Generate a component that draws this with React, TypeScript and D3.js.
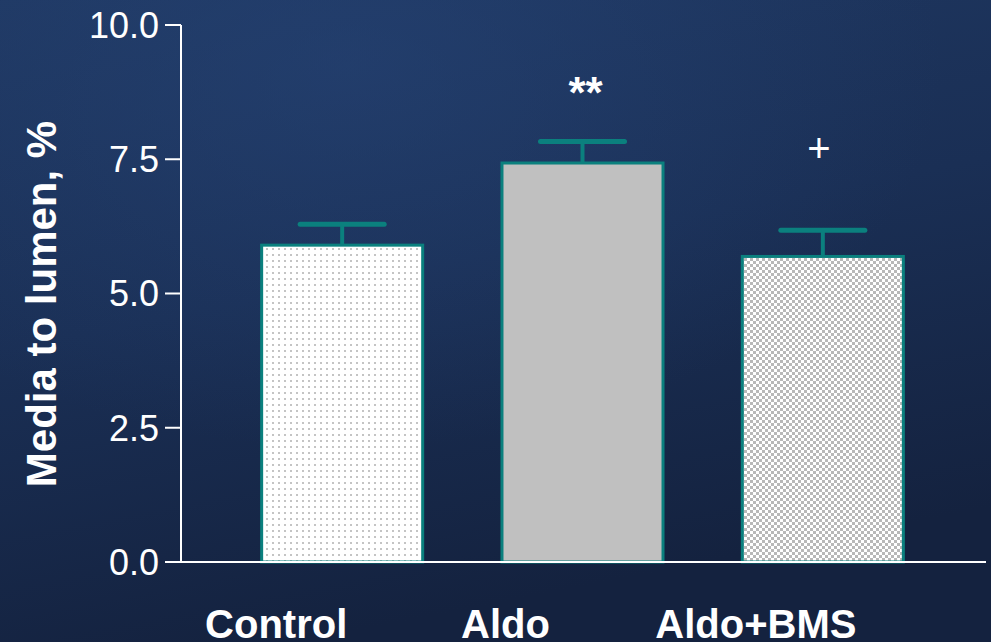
import React from "react";
import * as d3 from "d3";

const categories = ["Control", "Aldo", "Aldo+BMS"];
const means = [5.9, 7.43, 5.69];
const errors = [0.39, 0.4, 0.49];
const yTicks = [0, 2.5, 5, 7.5, 10];
const annotations = ["", "**", "+"];

const W = 991;
const H = 642;
// layout: horizontal shift of category labels relative to bar centres
const LABEL_SHIFT = [-66, -77, -67];

export default function App() {
  const y = d3.scaleLinear().domain([0, 10]).range([562, 25]);
  const x = d3
    .scaleBand<string>()
    .domain(categories)
    .range([222, 943])
    .paddingInner(0.33)
    .paddingOuter(0.165);
  const bw = x.bandwidth();
  const teal = "#0b807e";
  const fills = ["url(#dots)", "#c0c0c0", "url(#checks)"];
  const font = "'Liberation Sans', Arial, sans-serif";

  return (
    <svg
      width={W}
      height={H}
      style={{ position: "absolute", left: 0, top: 0 }}
    >
      <defs>
        <linearGradient id="bg" x1="0" y1="0" x2="0.3" y2="1">
          <stop offset="0" stopColor="#1f3862" />
          <stop offset="0.5" stopColor="#1a2f55" />
          <stop offset="1" stopColor="#14223f" />
        </linearGradient>
        <radialGradient id="glow" cx="0.35" cy="0.1" r="0.6">
          <stop offset="0" stopColor="#27467a" stopOpacity="0.5" />
          <stop offset="1" stopColor="#27467a" stopOpacity="0" />
        </radialGradient>
        <pattern id="dots" width="6" height="6" patternUnits="userSpaceOnUse">
          <rect width="6" height="6" fill="#ffffff" />
          <rect x="2" y="2" width="2" height="2" fill="#c4c4c4" />
        </pattern>
        <pattern id="checks" width="6" height="6" patternUnits="userSpaceOnUse">
          <rect width="6" height="6" fill="#ffffff" />
          <rect x="0" y="0" width="3" height="3" fill="#b8b8b8" />
          <rect x="3" y="3" width="3" height="3" fill="#b8b8b8" />
        </pattern>
      </defs>
      <rect width={W} height={H} fill="url(#bg)" />
      <rect width={W} height={H} fill="url(#glow)" />

      {/* bars */}
      {categories.map((c, i) => {
        const x0 = x(c)!;
        const cx = x0 + bw / 2;
        return (
          <g key={c}>
            <line
              x1={cx}
              x2={cx}
              y1={y(means[i])}
              y2={y(means[i] + errors[i])}
              stroke={teal}
              strokeWidth={4}
            />
            <line
              x1={cx - 42}
              x2={cx + 42}
              y1={y(means[i] + errors[i])}
              y2={y(means[i] + errors[i])}
              stroke={teal}
              strokeWidth={5}
              strokeLinecap="round"
            />
            <rect
              x={x0}
              y={y(means[i])}
              width={bw}
              height={y(0) - y(means[i])}
              fill={fills[i]}
              stroke={teal}
              strokeWidth={3}
            />
            {annotations[i] && (
              <text
                x={i === 1 ? cx + 3 : cx - 4}
                y={i === 1 ? 108 : 162}
                textAnchor="middle"
                fill="#ffffff"
                fontFamily={font}
                fontWeight={i === 1 ? "bold" : "normal"}
                fontSize={i === 1 ? 44 : 40}
              >
                {annotations[i]}
              </text>
            )}
            <text
              x={cx + LABEL_SHIFT[i]}
              y={638}
              textAnchor="middle"
              fill="#ffffff"
              fontFamily={font}
              fontWeight="bold"
              fontSize={40}
            >
              {c}
            </text>
          </g>
        );
      })}

      {/* axes */}
      <line x1={181} x2={181} y1={y(10)} y2={y(0)} stroke="#ffffff" strokeWidth={2} />
      <line x1={165} x2={986} y1={y(0)} y2={y(0)} stroke="#ffffff" strokeWidth={2} />
      {yTicks.map((t) => (
        <g key={t}>
          <line x1={165} x2={181} y1={y(t)} y2={y(t)} stroke="#ffffff" strokeWidth={2} />
          <text
            x={159}
            y={y(t)}
            dy="0.36em"
            textAnchor="end"
            fill="#ffffff"
            fontFamily={font}
            fontSize={36}
          >
            {t.toFixed(1)}
          </text>
        </g>
      ))}
      <text
        transform={`translate(56,304) rotate(-90)`}
        textAnchor="middle"
        fill="#ffffff"
        fontFamily={font}
        fontWeight="bold"
        fontSize={42}
      >
        Media to lumen, %
      </text>
    </svg>
  );
}
